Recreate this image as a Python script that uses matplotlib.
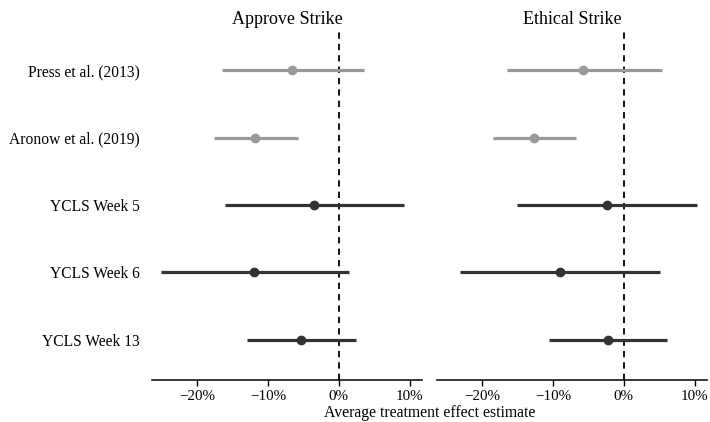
import matplotlib
matplotlib.use("Agg")
import matplotlib.pyplot as plt
from matplotlib.ticker import FuncFormatter

plt.rcParams['font.family'] = ['Liberation Serif', 'DejaVu Serif']

studies = ["Press et al. (2013)", "Aronow et al. (2019)", "YCLS Week 5", "YCLS Week 6", "YCLS Week 13"]
is_prior = [True, True, False, False, False]
panels = ["Approve Strike", "Ethical Strike"]

# estimates and 95% CI (percentage points)
approve_est = [-6.6, -11.8, -3.5, -11.9, -5.3]
approve_lo = [-16.5, -17.6, -16.0, -25.0, -12.9]
approve_hi = [3.5, -5.8, 9.2, 1.4, 2.4]

ethical_est = [-5.7, -12.6, -2.4, -9.0, -2.2]
ethical_lo = [-16.5, -18.4, -15.0, -23.0, -10.5]
ethical_hi = [5.3, -6.7, 10.3, 5.1, 6.1]

xticks = [-20, -10, 0, 10]

W, H = 710, 422
fig = plt.figure(figsize=(W / 100, H / 100), dpi=100)
ax_l = fig.add_axes([152 / W, 42 / H, 270 / W, 350 / H])
ax_r = fig.add_axes([437 / W, 42 / H, 270 / W, 350 / H])

gray = "#999999"
dark = "#333333"
ypos = list(range(len(studies)))[::-1]

data = [(approve_est, approve_lo, approve_hi), (ethical_est, ethical_lo, ethical_hi)]
for ax, title, (est, lo, hi) in zip([ax_l, ax_r], panels, data):
    ax.axvline(0, color="black", linestyle=(0, (3.5, 2.8)), linewidth=1.3, zorder=1)
    for y, e, l, h, prior in zip(ypos, est, lo, hi, is_prior):
        c = gray if prior else dark
        ax.plot([l, h], [y, y], color=c, linewidth=2.3, solid_capstyle="butt", zorder=2)
        ax.plot([e], [y], marker="o", markersize=6, color=c, zorder=3)
    ax.set_xlim(-26.3, 11.7)
    ax.set_ylim(-0.6, 4.6)
    ax.set_xticks(xticks)
    ax.xaxis.set_major_formatter(FuncFormatter(lambda v, p: ("\u2212" if v < 0 else "") + f"{abs(int(round(v)))}%"))
    ax.tick_params(axis="x", length=4, width=1, labelsize=10.8, pad=3.5, color="black")
    ax.tick_params(axis="y", length=0, labelsize=11.2, pad=9)
    for s in ["top", "right", "left"]:
        ax.spines[s].set_visible(False)
    ax.spines["bottom"].set_linewidth(1.1)
    ax.set_title(title, fontsize=13, pad=4)
    ax.set_yticks(ypos)

ax_l.set_yticklabels(studies)
ax_r.set_yticklabels([])
fig.text(430 / W, 5 / H, "Average treatment effect estimate", ha="center", va="baseline", fontsize=11.3)

fig.savefig("out.png", dpi=100)
